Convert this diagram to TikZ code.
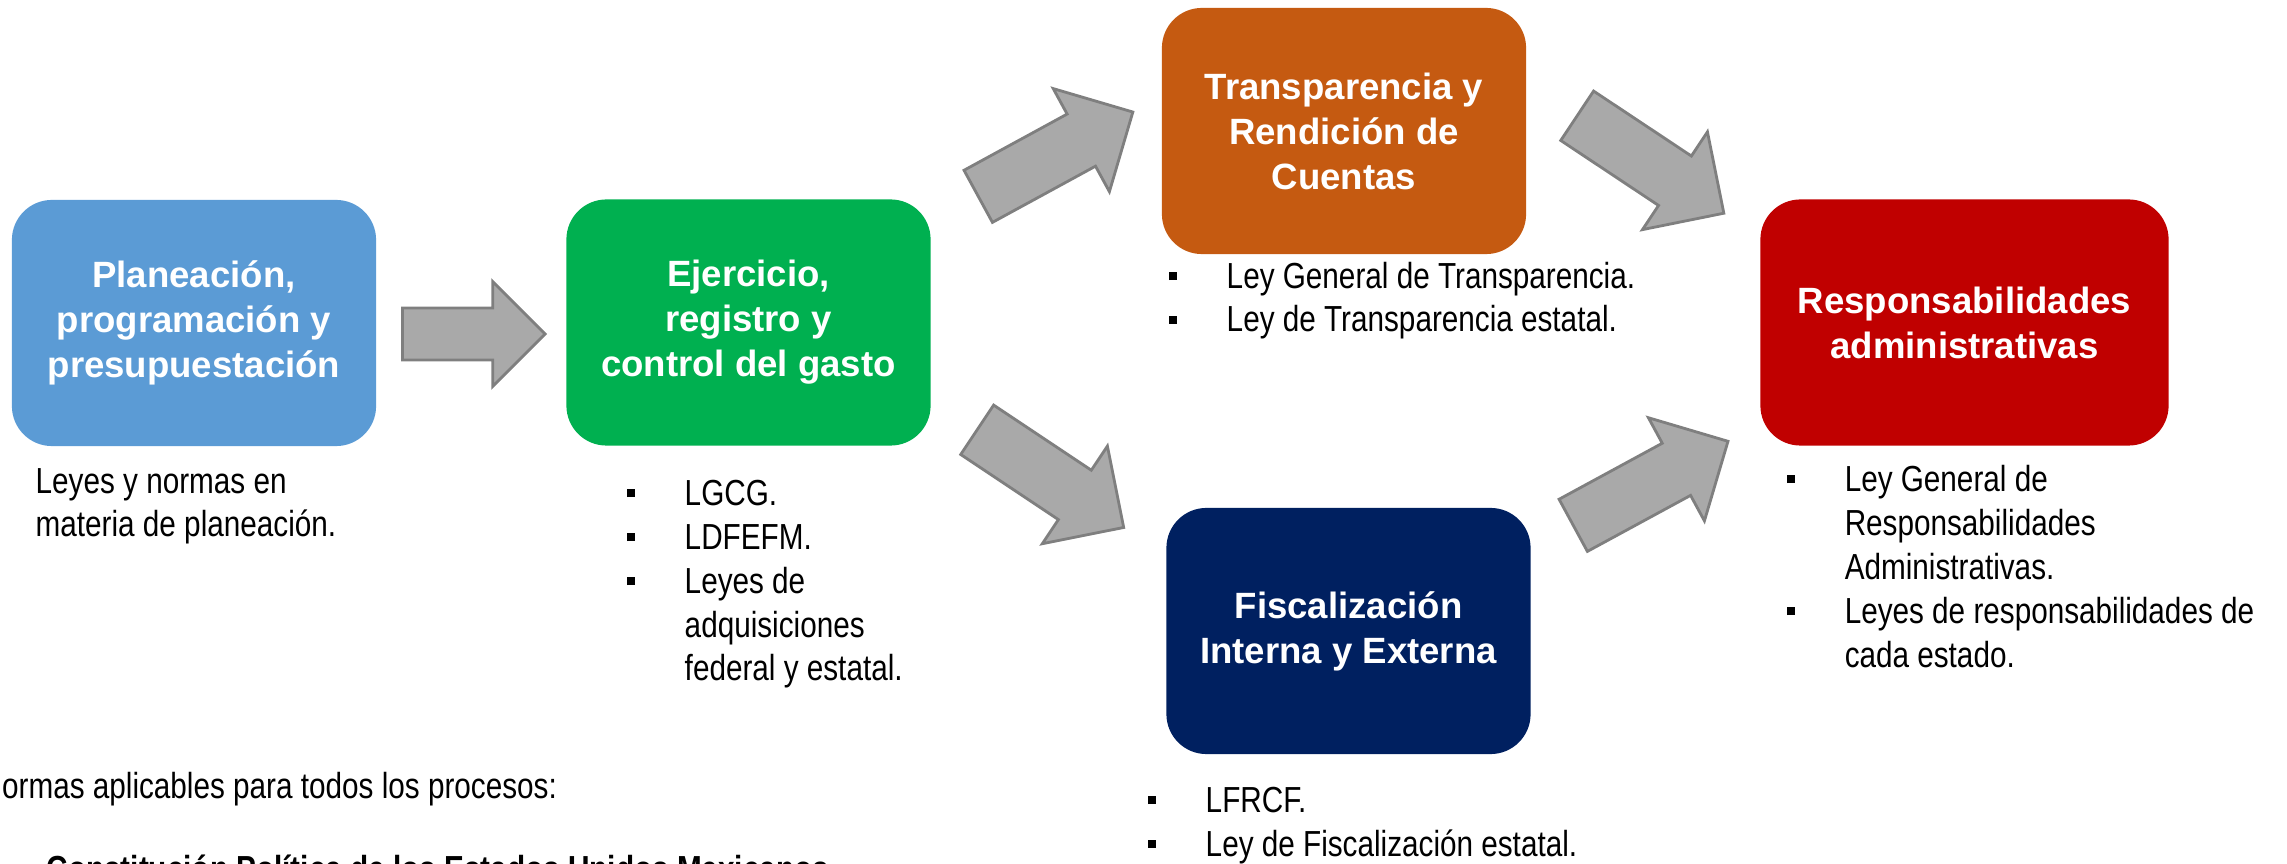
\documentclass[tikz,border=0pt]{standalone}
\usepackage{fontspec}
\setmainfont{Liberation Sans}
\newfontfamily\narrowfont{Liberation Sans}[FakeStretch=0.82]
\usetikzlibrary{shapes.arrows}

\definecolor{planblue}{HTML}{5B9BD5}
\definecolor{gastogreen}{HTML}{00B050}
\definecolor{transporange}{HTML}{C55A11}
\definecolor{fiscnavy}{HTML}{002060}
\definecolor{respred}{HTML}{C00000}
\definecolor{arrowfill}{HTML}{A9A9A9}
\definecolor{arrowline}{HTML}{7F7F7F}

\tikzset{
  proc/.style={rounded corners=0.4cm, minimum width=3.64cm, minimum height=2.46cm,
    inner sep=0pt, align=center, text=white,
    font=\fontsize{10.4}{12.8}\selectfont\bfseries},
  % anchored on the baseline of the last line
  ley/.style={anchor=base west, inner sep=0pt, align=left,
    font=\narrowfont\fontsize{10.3}{12.5}\selectfont},
  bigarrow/.style={single arrow, draw=arrowline, fill=arrowfill, line width=0.8pt,
    inner xsep=0pt, inner ysep=0.2825cm, single arrow tip angle=90,
    single arrow head extend=0.29cm, minimum height=1.76cm, anchor=tail},
}
\newcommand\bul{\makebox[0.58cm][l]{\rule[0.08cm]{0.08cm}{0.08cm}}}
\newcommand\bulgap{\hspace*{0.58cm}}

\begin{document}
\begin{tikzpicture}[x=0.01cm, y=-0.01cm]
  \useasboundingbox (0,0) rectangle (2287,864);
  \clip (0,0) rectangle (2287,864);

  % processes
  \node[proc, fill=planblue] (plan) at (194,323)
    {Planeación,\\programación y\\presupuestación};
  \node[proc, fill=gastogreen] (gasto) at (748.5,322.5)
    {Ejercicio,\\registro y\\control del gasto};
  \node[proc, fill=transporange] (transp) at (1344,131)
    {Transparencia y\\Rendición de\\Cuentas};
  \node[proc, fill=fiscnavy] (fisc) at (1348.5,631)
    {Fiscalización\\Interna y Externa};
  \node[proc, fill=respred, minimum width=4.08cm] (resp) at (1964.5,322.5)
    {Responsabilidades\\administrativas};

  % block arrows
  \node[bigarrow, inner ysep=0.2465cm, single arrow head extend=0.263cm,
    minimum height=1.426cm] (ar1) at (401,334) {};
  \node[bigarrow, rotate=28.6] (ar2) at (977,197) {};
  \node[bigarrow, rotate=-33.7] (ar3) at (976,429) {};
  \node[bigarrow, rotate=-33.6] (ar4) at (1576,115) {};
  \node[bigarrow, rotate=28.5] (ar5) at (1572,526) {};

  % laws under each box
  \node[ley] (plantxt) at (35,537) {Leyes y normas en\\materia de planeación.};
  \node[ley] (gastotxt) at (626,681)
    {\bul LGCG.\\ \bul LDFEFM.\\ \bul Leyes de\\ \bulgap adquisiciones\\ \bulgap federal y estatal.};
  \node[ley] (transptxt) at (1168,332)
    {\bul Ley General de Transparencia.\\ \bul Ley de Transparencia estatal.};
  \node[ley] (fisctxt) at (1147,856)
    {\bul LFRCF.\\ \bul Ley de Fiscalización estatal.};
  \node[ley] (resptxt) at (1786,667)
    {\bul Ley General de\\ \bulgap Responsabilidades\\ \bulgap Administrativas.\\
     \bul Leyes de responsabilidades de\\ \bulgap cada estado.};

  % common rules
  \node[ley] (normas) at (-20,798) {Normas aplicables para todos los procesos:};
  \node[ley, font=\narrowfont\fontsize{10.3}{12.5}\selectfont\bfseries] (constit) at (46,881)
    {Constitución Política de los Estados Unidos Mexicanos};
\end{tikzpicture}
\end{document}
